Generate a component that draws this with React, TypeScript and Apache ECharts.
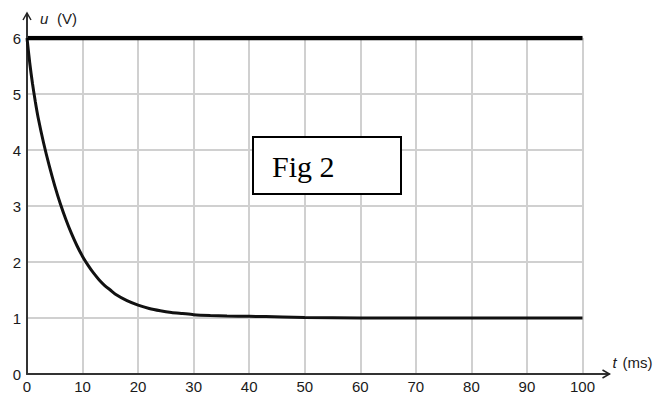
import React, { useEffect, useRef } from "react";
import * as echarts from "echarts";

// Time axis (ms) and voltage readings for the decaying capacitor voltage
const timeMs = [0, 0.5, 1, 1.5, 2, 3, 4, 5, 6, 7, 8, 9, 10, 11, 12, 13, 14, 15, 16, 18, 20, 22, 24, 26, 28, 30, 33, 36, 40, 46, 50, 60, 70, 80, 90, 100];
const voltage = [6, 5.55, 5.18, 4.86, 4.58, 4.12, 3.72, 3.36, 3.04, 2.76, 2.51, 2.29, 2.1, 1.94, 1.8, 1.68, 1.58, 1.5, 1.42, 1.31, 1.23, 1.17, 1.13, 1.1, 1.08, 1.06, 1.045, 1.035, 1.03, 1.02, 1.01, 1.0, 1.0, 1.0, 1.0, 1.0];

// Constant source voltage
const sourceTime = [0, 100];
const sourceVoltage = [6, 6];

const xTicks = [0, 10, 20, 30, 40, 50, 60, 70, 80, 90, 100];
const yTicks = [0, 1, 2, 3, 4, 5, 6];

const FONT = "Liberation Sans";
const LABEL_COLOR = "#1a1a1a";

export default function App() {
  const ref = useRef<HTMLDivElement>(null);

  useEffect(() => {
    if (!ref.current) return;
    const chart = echarts.init(ref.current, undefined, { renderer: "svg" });

    const option: any = {
      animation: false,
      backgroundColor: "#ffffff",
      grid: { left: 27, right: 70.5, top: 38, bottom: 24, containLabel: false },
      xAxis: {
        type: "value",
        min: xTicks[0],
        max: xTicks[xTicks.length - 1],
        interval: 10,
        axisLine: { show: true, lineStyle: { color: "#333", width: 2 } },
        axisTick: { show: false },
        axisLabel: { color: LABEL_COLOR, fontSize: 15, fontFamily: FONT, margin: 5 },
        splitLine: { show: true, lineStyle: { color: "#d0d0d0", width: 2 } },
      },
      yAxis: {
        type: "value",
        min: yTicks[0],
        max: yTicks[yTicks.length - 1],
        interval: 1,
        axisLine: { show: true, lineStyle: { color: "#333", width: 2 } },
        axisTick: { show: false },
        axisLabel: { color: LABEL_COLOR, fontSize: 15, fontFamily: FONT, margin: 6 },
        splitLine: { show: true, lineStyle: { color: "#d0d0d0", width: 2 } },
      },
      series: [
        {
          type: "line",
          data: timeMs.map((t, i) => [t, voltage[i]]),
          showSymbol: false,
          smooth: 0.25,
          lineStyle: { color: "#111", width: 3 },
          z: 3,
        },
        {
          type: "line",
          data: sourceTime.map((t, i) => [t, sourceVoltage[i]]),
          showSymbol: false,
          lineStyle: { color: "#000", width: 4.5 },
          z: 4,
        },
      ],
    };
    chart.setOption(option);

    // Axis extensions with open arrowheads, axis names and the figure tag
    const origin = chart.convertToPixel({ gridIndex: 0 }, [0, 0]) as number[];
    const xEnd = chart.convertToPixel({ gridIndex: 0 }, [100, 0]) as number[];
    const yEnd = chart.convertToPixel({ gridIndex: 0 }, [0, 6]) as number[];
    const x0 = origin[0];
    const y0 = origin[1];
    const xTip = xEnd[0] + 27;
    const yTip = yEnd[1] - 25;
    const axisStroke = { stroke: "#333", lineWidth: 2 };
    const arrowStroke = { stroke: "#222", lineWidth: 1.5, fill: "none" };
    const nameStyle = (text: string, italic: boolean) => ({
      text,
      fontSize: 15,
      fontFamily: FONT,
      fontStyle: italic ? "italic" : "normal",
      fill: LABEL_COLOR,
      verticalAlign: "middle",
    });

    chart.setOption({
      graphic: [
        { type: "line", shape: { x1: xEnd[0], y1: y0, x2: xTip, y2: y0 }, style: axisStroke, z: 10 },
        { type: "polyline", shape: { points: [[xTip - 7, y0 - 4], [xTip, y0], [xTip - 7, y0 + 4]] }, style: arrowStroke, z: 10 },
        { type: "line", shape: { x1: x0, y1: yEnd[1], x2: x0, y2: yTip }, style: axisStroke, z: 10 },
        { type: "polyline", shape: { points: [[x0 - 4, yTip + 7], [x0, yTip], [x0 + 4, yTip + 7]] }, style: arrowStroke, z: 10 },
        { type: "text", x: x0 + 13, y: yTip + 5, style: nameStyle("u", true), z: 10 },
        { type: "text", x: x0 + 30, y: yTip + 5, style: nameStyle("(V)", false), z: 10 },
        { type: "text", x: xTip + 3, y: y0 - 12, style: nameStyle("t", true), z: 10 },
        { type: "text", x: xTip + 13, y: y0 - 12, style: nameStyle("(ms)", false), z: 10 },
        {
          type: "group",
          left: 252,
          top: 136,
          z: 12,
          children: [
            {
              type: "rect",
              shape: { x: 1, y: 1, width: 148, height: 57 },
              style: { fill: "#fff", stroke: "#000", lineWidth: 2 },
            },
            {
              type: "text",
              x: 20,
              y: 30,
              style: {
                text: "Fig 2",
                fontSize: 30,
                fontFamily: "Liberation Serif",
                fill: "#000",
                verticalAlign: "middle",
              },
            },
          ],
        },
      ],
    });

    return () => chart.dispose();
  }, []);

  return (
    <div
      ref={ref}
      style={{ position: "fixed", left: 0, top: 0, width: 653, height: 398, background: "#fff" }}
    />
  );
}
